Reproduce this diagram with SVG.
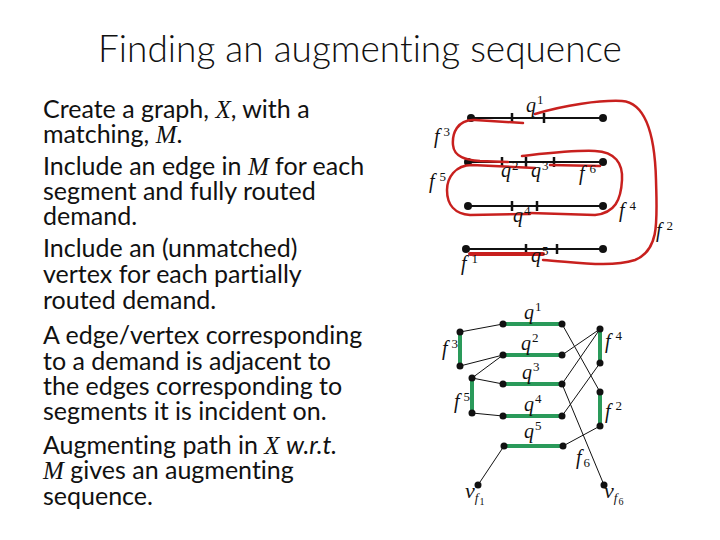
<svg xmlns="http://www.w3.org/2000/svg" width="720" height="540" viewBox="0 0 720 540">
<style>
text{font-variant-ligatures:none}
.title{font-family:Lato,"Liberation Sans",sans-serif;font-weight:300;font-size:37px;fill:#111}
.body{font-family:Lato,"Liberation Sans",sans-serif;font-size:25px;fill:#111}
.mi{font-family:"Liberation Serif",serif;font-style:italic}
.it{font-style:italic}
.lbl{font-family:"Liberation Serif",serif;font-style:italic;font-size:20px;fill:#111}
.sup{font-family:"Liberation Serif",serif;font-style:normal;font-size:13px;fill:#111}
.sub{font-family:"Liberation Serif",serif;font-style:italic;font-size:13px;fill:#111}
.sub2{font-family:"Liberation Serif",serif;font-style:normal;font-size:10px;fill:#111}
.seg{stroke:#111;stroke-width:2;fill:none}
.tick{stroke:#111;stroke-width:2.5}
.red{stroke:#c8201e;stroke-width:2.5;fill:none;stroke-linecap:round}
.e{stroke:#111;stroke-width:1;fill:none}
.m{stroke:#2a9a5a;stroke-width:4;fill:none}
.dot{fill:#111}
</style>
<rect width="720" height="540" fill="#fff"/>
<text class="title" x="360" y="62" text-anchor="middle">Finding an augmenting sequence</text>
<g id="bullets" class="body">
<text x="43" y="118">Create a graph, <tspan class="mi">X</tspan>, with a</text>
<text x="43" y="143">matching, <tspan class="mi">M</tspan>.</text>
<text x="43" y="175">Include an edge in <tspan class="mi">M</tspan> for each</text>
<text x="43" y="200">segment and fully routed</text>
<text x="43" y="225">demand.</text>
<text x="43" y="257">Include an (unmatched)</text>
<text x="43" y="283">vertex for each partially</text>
<text x="43" y="309">routed demand.</text>
<text x="43" y="344">A edge/vertex corresponding</text>
<text x="43" y="370">to a demand is adjacent to</text>
<text x="43" y="395">the edges corresponding to</text>
<text x="43" y="420">segments it is incident on.</text>
<text x="43" y="454">Augmenting path in <tspan class="mi">X</tspan> <tspan class="it">w.r.t.</tspan></text>
<text x="43" y="479"><tspan class="mi">M</tspan> gives an augmenting</text>
<text x="43" y="505">sequence.</text>
</g>
<g id="routing">
<g id="seg-lines">
<line class="seg" x1="471" y1="118" x2="603" y2="118"/>
<line class="tick" x1="512" y1="113" x2="512" y2="123"/>
<line class="tick" x1="544" y1="113" x2="544" y2="123"/>
<circle class="dot" cx="471" cy="118" r="4"/><circle class="dot" cx="603" cy="118" r="4"/>
<line class="seg" x1="468" y1="162" x2="603" y2="162"/>
<line class="tick" x1="502" y1="157" x2="502" y2="167"/>
<line class="tick" x1="526" y1="157" x2="526" y2="167"/>
<line class="tick" x1="554" y1="157" x2="554" y2="167"/>
<circle class="dot" cx="468" cy="162" r="4"/><circle class="dot" cx="603" cy="162" r="4"/>
<line class="seg" x1="468" y1="206" x2="603" y2="206"/>
<line class="tick" x1="512" y1="201" x2="512" y2="211"/>
<line class="tick" x1="537" y1="201" x2="537" y2="211"/>
<circle class="dot" cx="468" cy="206" r="4"/><circle class="dot" cx="603" cy="206" r="4"/>
<line class="seg" x1="466" y1="249" x2="603" y2="249"/>
<line class="tick" x1="526" y1="244" x2="526" y2="254"/>
<line class="tick" x1="557" y1="244" x2="557" y2="254"/>
<circle class="dot" cx="466" cy="249" r="4"/><circle class="dot" cx="603" cy="249" r="4"/>
</g>
<g id="demands">
<path class="red" d="M535,114 C565,105 600,100 622,101 C648,103 655,140 656,180 C657,220 660,250 635,260 C610,268 575,262 543,260"/>
<path class="red" d="M523,123 L475,120 C457,119 452,134 453,145 C454,157 466,160 480,161 L508,162"/>
<path class="red" d="M535,168 L472,165 C455,165 447,178 447,190 C447,205 455,214 470,215 L530,214"/>
<path class="red" d="M522,156 C550,153 575,150 595,151 C615,152 623,163 622,180 C621,200 615,213 595,215 L530,213"/>
<path class="red" d="M550,165 L600,166"/>
<path class="red" style="stroke-width:4" d="M470,254 L543,254"/>
</g>
<g id="routing-labels">
<text class="lbl" x="526" y="112">q<tspan class="sup" dx="1" dy="-8">1</tspan></text>
<text class="lbl" x="434" y="143">f<tspan class="sup" dx="4" dy="-7">3</tspan></text>
<text class="lbl" x="501" y="177">q<tspan class="sup" dx="1" dy="-7">2</tspan></text>
<text class="lbl" x="531" y="177">q<tspan class="sup" dx="1" dy="-7">3</tspan></text>
<text class="lbl" x="579" y="180">f<tspan class="sup" dx="5" dy="-7">6</tspan></text>
<text class="lbl" x="429" y="188">f<tspan class="sup" dx="5" dy="-7">5</tspan></text>
<text class="lbl" x="513" y="222">q<tspan class="sup" dx="1" dy="-7">4</tspan></text>
<text class="lbl" x="619" y="217">f<tspan class="sup" dx="5" dy="-7">4</tspan></text>
<text class="lbl" x="656" y="237">f<tspan class="sup" dx="5" dy="-7">2</tspan></text>
<text class="lbl" x="461" y="270">f<tspan class="sup" dx="5" dy="-7">1</tspan></text>
<text class="lbl" x="531" y="262">q<tspan class="sup" dx="1" dy="-7">5</tspan></text>
</g>
</g>
<g id="graph">
<g id="connectors">
<line class="e" x1="460" y1="332" x2="503" y2="324"/>
<line class="e" x1="460" y1="366" x2="503" y2="355"/>
<line class="e" x1="472" y1="378" x2="503" y2="355"/>
<line class="e" x1="472" y1="378" x2="503" y2="384"/>
<line class="e" x1="472" y1="413" x2="503" y2="416"/>
<line class="e" x1="562" y1="324" x2="600" y2="392"/>
<line class="e" x1="562" y1="355" x2="600" y2="329"/>
<line class="e" x1="562" y1="384" x2="600" y2="329"/>
<line class="e" x1="562" y1="416" x2="600" y2="363"/>
<line class="e" x1="562" y1="384" x2="604" y2="485"/>
<line class="e" x1="563" y1="446" x2="600" y2="426"/>
<line class="e" x1="504" y1="446" x2="478" y2="485"/>
<line class="m" x1="503" y1="324" x2="562" y2="324"/>
<line class="m" x1="503" y1="355" x2="562" y2="355"/>
<line class="m" x1="503" y1="384" x2="562" y2="384"/>
<line class="m" x1="503" y1="416" x2="562" y2="416"/>
<line class="m" x1="504" y1="446" x2="563" y2="446"/>
<line class="m" x1="460" y1="332" x2="460" y2="366"/>
<line class="m" x1="472" y1="378" x2="472" y2="413"/>
<line class="m" x1="600" y1="329" x2="600" y2="363"/>
<line class="m" x1="600" y1="392" x2="600" y2="426"/>
</g>
<g id="n-q1"><circle class="dot" cx="503" cy="324" r="3.5"/><circle class="dot" cx="562" cy="324" r="3.5"/><text class="lbl" x="524" y="319">q<tspan class="sup" dx="1" dy="-8">1</tspan></text></g>
<g id="n-q2"><circle class="dot" cx="503" cy="355" r="3.5"/><circle class="dot" cx="562" cy="355" r="3.5"/><text class="lbl" x="521" y="350">q<tspan class="sup" dx="1" dy="-8">2</tspan></text></g>
<g id="n-q3"><circle class="dot" cx="503" cy="384" r="3.5"/><circle class="dot" cx="562" cy="384" r="3.5"/><text class="lbl" x="522" y="379">q<tspan class="sup" dx="1" dy="-8">3</tspan></text></g>
<g id="n-q4"><circle class="dot" cx="503" cy="416" r="3.5"/><circle class="dot" cx="562" cy="416" r="3.5"/><text class="lbl" x="524" y="411">q<tspan class="sup" dx="1" dy="-8">4</tspan></text></g>
<g id="n-q5"><circle class="dot" cx="504" cy="446" r="3.5"/><circle class="dot" cx="563" cy="446" r="3.5"/><text class="lbl" x="524" y="438">q<tspan class="sup" dx="1" dy="-8">5</tspan></text></g>
<g id="n-f3"><circle class="dot" cx="460" cy="332" r="3.5"/><circle class="dot" cx="460" cy="366" r="3.5"/><text class="lbl" x="442" y="355">f<tspan class="sup" dx="4" dy="-7">3</tspan></text></g>
<g id="n-f5"><circle class="dot" cx="472" cy="378" r="3.5"/><circle class="dot" cx="472" cy="413" r="3.5"/><text class="lbl" x="454" y="408">f<tspan class="sup" dx="4" dy="-7">5</tspan></text></g>
<g id="n-f4"><circle class="dot" cx="600" cy="329" r="3.5"/><circle class="dot" cx="600" cy="363" r="3.5"/><text class="lbl" x="605" y="348">f<tspan class="sup" dx="5" dy="-8">4</tspan></text></g>
<g id="n-f2"><circle class="dot" cx="600" cy="392" r="3.5"/><circle class="dot" cx="600" cy="426" r="3.5"/><text class="lbl" x="605" y="418">f<tspan class="sup" dx="5" dy="-8">2</tspan></text></g>
<g id="n-f6"><text class="lbl" x="576" y="464">f<tspan class="sup" dx="2" dy="3">6</tspan></text></g>
<g id="n-vf1"><circle class="dot" cx="478" cy="485" r="3.5"/><text class="lbl" x="465" y="498" style="font-size:22px">v<tspan class="sub" dy="4">f</tspan><tspan class="sub2" dx="1" dy="3">1</tspan></text></g>
<g id="n-vf6"><circle class="dot" cx="604" cy="485" r="3.5"/><text class="lbl" x="604" y="498" style="font-size:22px">v<tspan class="sub" dy="4">f</tspan><tspan class="sub2" dx="1" dy="3">6</tspan></text></g>
</g>
</svg>
